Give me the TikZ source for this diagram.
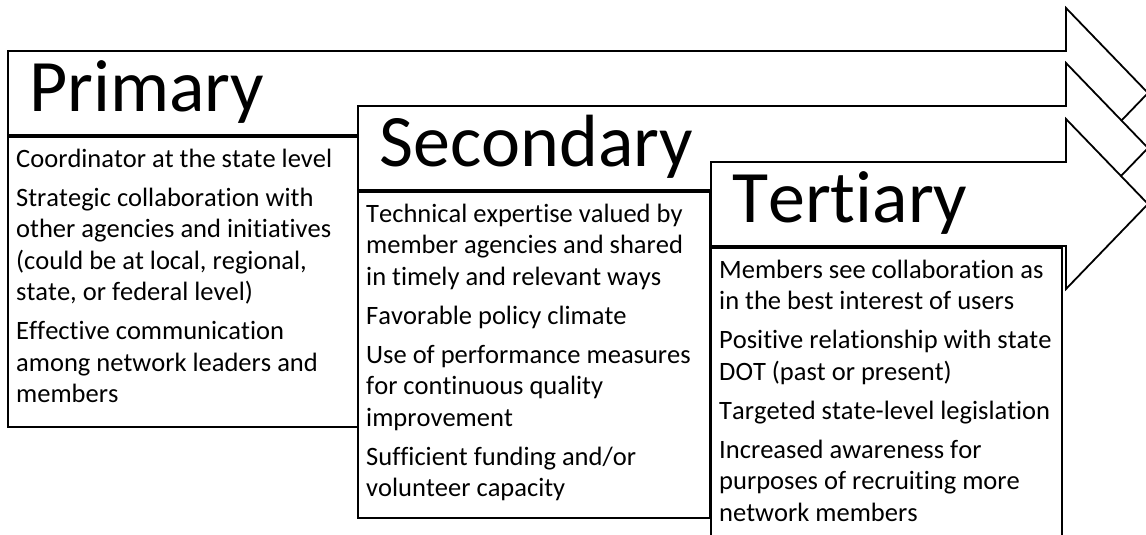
\documentclass[tikz,border=0pt]{standalone}
\usepackage{fontspec}
\setmainfont{Carlito}[Ligatures=NoCommon,Kerning=Off]
\usetikzlibrary{positioning}

\tikzset{
  arrowbody/.style={draw=black,line width=1.8pt,fill=white,line join=miter},
  listbox/.style={draw=black,line width=1.8pt,fill=white,outer sep=0pt,inner sep=0pt,anchor=north west},
  headtext/.style={anchor=base west,inner sep=0pt,font=\fontsize{74}{80}\selectfont},
  listtext/.style={anchor=base west,inner sep=0pt,text width=340pt,align=flush left,font=\fontsize{26.5}{31.5}\selectfont},
}

\begin{document}
\begin{tikzpicture}[x=1pt,y=-1pt]
		\useasboundingbox (0,0) rectangle (1146,535);
		\clip (0,0) rectangle (1146,535);
		% primary
		\draw[arrowbody] (8,51) -- (1066,51) -- (1066,8) -- (1148,93) -- (1066,178) -- (1066,135) -- (8,135) -- cycle;
		\node[listbox,minimum width=350pt,minimum height=290pt] (pbox) at (8,137) {};
		\node[headtext,shift={(21,-26)}] (prim) at (pbox.north west) {Primary};
		\node[listtext,shift={(8,30)}] (plist) at (pbox.north west) {Coordinator at the state level\\[7.5pt]
			Strategic collaboration with\\ other agencies and initiatives\\ (could be at local, regional,\\ state, or federal level)\\[7.5pt]
			Effective communication\\ among network leaders and\\ members};
		% secondary
		\draw[arrowbody] (358,106) -- (1066,106) -- (1066,63) -- (1148,148) -- (1066,233) -- (1066,190) -- (358,190) -- cycle;
		\node[listbox,minimum width=352pt,minimum height=326pt] (sbox) at (358,192) {};
		\node[headtext,shift={(21,-26)}] (sec) at (sbox.north west) {Secondary};
		\node[listtext,shift={(8,30)}] (slist) at (sbox.north west) {Technical expertise valued by\\ member agencies and shared\\ in timely and relevant ways\\[7.5pt]
			Favorable policy climate\\[7.5pt]
			Use of performance measures\\ for continuous quality\\ improvement\\[7.5pt]
			Sufficient funding and/or\\ volunteer capacity};
		% tertiary
		\draw[arrowbody] (711,162) -- (1066,162) -- (1066,119) -- (1148,204) -- (1066,289) -- (1066,246) -- (711,246) -- cycle;
		\node[listbox,minimum width=351pt,minimum height=320pt] (tbox) at (711,248) {};
		\node[headtext,shift={(21,-26)}] (tert) at (tbox.north west) {Tertiary};
		\node[listtext,shift={(8,30)}] (tlist) at (tbox.north west) {Members see collaboration as\\ in the best interest of users\\[7.5pt]
			Positive relationship with state\\ DOT (past or present)\\[7.5pt]
			Targeted state-level legislation\\[7.5pt]
			Increased awareness for\\ purposes of recruiting more\\ network members};
	\end{tikzpicture}
\end{document}
